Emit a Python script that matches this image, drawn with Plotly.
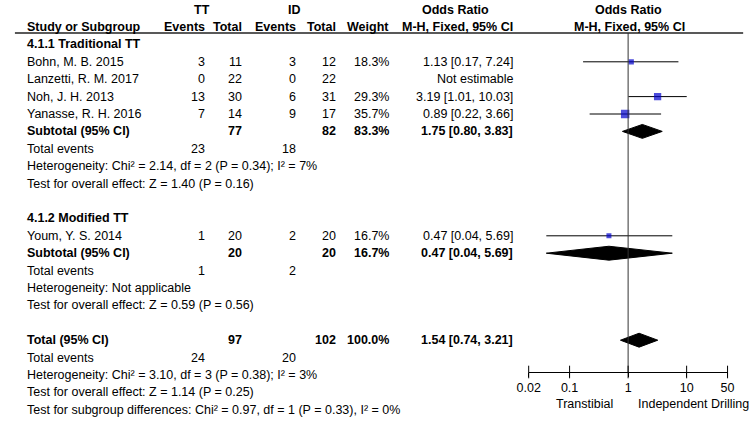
import math
import plotly.graph_objects as go

# study level data
studies = ["Bohn, M. B. 2015", "Lanzetti, R. M. 2017", "Noh, J. H. 2013",
           "Yanasse, R. H. 2016", "Youm, Y. S. 2014"]
study_group = [0, 0, 0, 0, 1]
tt_events = [3, 0, 13, 7, 1]
tt_total = [11, 22, 30, 14, 20]
id_events = [3, 0, 6, 9, 2]
id_total = [12, 22, 31, 17, 20]
weight = [18.3, None, 29.3, 35.7, 16.7]
or_est = [1.13, None, 3.19, 0.89, 0.47]
or_lo = [0.17, None, 1.01, 0.22, 0.04]
or_hi = [7.24, None, 10.03, 3.66, 5.69]

# subgroup summaries
sub_names = ["4.1.1 Traditional TT", "4.1.2 Modified TT"]
sub_tt_total = [77, 20]
sub_id_total = [82, 20]
sub_tt_events = [23, 1]
sub_id_events = [18, 2]
sub_weight = [83.3, 16.7]
sub_or = [1.75, 0.47]
sub_lo = [0.80, 0.04]
sub_hi = [3.83, 5.69]
sub_het = ["Heterogeneity: Chi² = 2.14, df = 2 (P = 0.34); I² = 7%",
           "Heterogeneity: Not applicable"]
sub_effect = ["Test for overall effect: Z = 1.40 (P = 0.16)",
              "Test for overall effect: Z = 0.59 (P = 0.56)"]

# overall
tot_tt_total, tot_id_total = 97, 102
tot_tt_events, tot_id_events = 24, 20
tot_weight = 100.0
tot_or, tot_lo, tot_hi = 1.54, 0.74, 3.21
tot_het = "Heterogeneity: Chi² = 3.10, df = 3 (P = 0.38); I² = 3%"
tot_effect = "Test for overall effect: Z = 1.14 (P = 0.25)"
subgroup_diff = "Test for subgroup differences: Chi² = 0.97, df = 1 (P = 0.33), I² = 0%"

tick_vals = [0.02, 0.1, 1, 10, 50]
tick_text = ["0.02", "0.1", "1", "10", "50"]
favours = ["Transtibial", "Independent Drilling"]

FONT = "Liberation Sans, Arial, sans-serif"
FS = 12.5
W, H = 756, 422
ROW0, ROW_H = 27, 17.4       # y of header row, row pitch (px)
AXIS_PX = 372
LEFT = 13
COL = {"tt_ev": 200, "tt_tot": 238, "id_ev": 293, "id_tot": 334, "wt": 389, "or": 516}
SQUARE = "#0000cc"
DIA_H = 0.4


def pxx(x):
    return x / W


def pxy(y):
    return 1 - y / H


def row_of(p):
    return (p - ROW0) / ROW_H


def row_px(r):
    return ROW0 + ROW_H * r


ann = []


def text(s, x, row, anchor="right", bold=False):
    if bold:
        s = "<b>%s</b>" % s
    ann.append(dict(text=s, x=pxx(x), y=pxy(row_px(row)), xref="paper", yref="paper",
                    xanchor=anchor, yanchor="middle", showarrow=False,
                    font=dict(family=FONT, size=FS, color="black")))


def ci_text(e, lo, hi):
    return "%.2f [%.2f, %.2f]" % (e, lo, hi)


fig = go.Figure()


def diamond(e, lo, hi, row):
    fig.add_trace(go.Scatter(x=[lo, e, hi, e, lo], y=[row, row - DIA_H, row, row + DIA_H, row],
                             mode="lines", fill="toself", fillcolor="black",
                             line=dict(color="black", width=1), hoverinfo="skip"))


# headers
text("TT", 195, -1, "center", True)
text("ID", 290, -1, "center", True)
text("Odds Ratio", 455, -1, "center", True)
text("Odds Ratio", 632, -1, "center", True)
text("Study or Subgroup", LEFT, 0, "left", True)
text("Events", COL["tt_ev"], 0, bold=True)
text("Total", COL["tt_tot"], 0, bold=True)
text("Events", COL["id_ev"], 0, bold=True)
text("Total", COL["id_tot"], 0, bold=True)
text("Weight", COL["wt"], 0, bold=True)
text("M-H, Fixed, 95% CI", COL["or"], 0, bold=True)
text("M-H, Fixed, 95% CI", 633, 0, "center", True)

sq_x, sq_y, sq_s = [], [], []
row = 1
for g, name in enumerate(sub_names):
    text(name, LEFT, row, "left", True)
    row += 1
    for i in range(len(studies)):
        if study_group[i] != g:
            continue
        text(studies[i], LEFT, row, "left")
        text(str(tt_events[i]), COL["tt_ev"], row)
        text(str(tt_total[i]), COL["tt_tot"], row)
        text(str(id_events[i]), COL["id_ev"], row)
        text(str(id_total[i]), COL["id_tot"], row)
        if or_est[i] is None:
            text("Not estimable", COL["or"], row)
        else:
            text("%.1f%%" % weight[i], COL["wt"], row)
            text(ci_text(or_est[i], or_lo[i], or_hi[i]), COL["or"], row)
            fig.add_trace(go.Scatter(x=[or_lo[i], or_hi[i]], y=[row, row], mode="lines",
                                     line=dict(color="black", width=1), hoverinfo="skip"))
            sq_x.append(or_est[i])
            sq_y.append(row)
            sq_s.append(2 + weight[i] * 0.18)
        row += 1
    text("Subtotal (95% CI)", LEFT, row, "left", True)
    text(str(sub_tt_total[g]), COL["tt_tot"], row, bold=True)
    text(str(sub_id_total[g]), COL["id_tot"], row, bold=True)
    text("%.1f%%" % sub_weight[g], COL["wt"], row, bold=True)
    text(ci_text(sub_or[g], sub_lo[g], sub_hi[g]), COL["or"], row, bold=True)
    diamond(sub_or[g], sub_lo[g], sub_hi[g], row)
    row += 1
    text("Total events", LEFT, row, "left")
    text(str(sub_tt_events[g]), COL["tt_ev"], row)
    text(str(sub_id_events[g]), COL["id_ev"], row)
    row += 1
    text(sub_het[g], LEFT, row, "left")
    row += 1
    text(sub_effect[g], LEFT, row, "left")
    row += 2

text("Total (95% CI)", LEFT, row, "left", True)
text(str(tot_tt_total), COL["tt_tot"], row, bold=True)
text(str(tot_id_total), COL["id_tot"], row, bold=True)
text("%.1f%%" % tot_weight, COL["wt"], row, bold=True)
text(ci_text(tot_or, tot_lo, tot_hi), COL["or"], row, bold=True)
diamond(tot_or, tot_lo, tot_hi, row)
row += 1
text("Total events", LEFT, row, "left")
text(str(tot_tt_events), COL["tt_ev"], row)
text(str(tot_id_events), COL["id_ev"], row)
row += 1
text(tot_het, LEFT, row, "left")
row += 1
text(tot_effect, LEFT, row, "left")
row += 1
text(subgroup_diff, LEFT, row, "left")

# favours labels under the axis
text(favours[0], 619, row_of(404), "right")
text(favours[1], 640, row_of(404), "left")

# squares
fig.add_trace(go.Scatter(x=sq_x, y=sq_y, mode="markers",
                         marker=dict(symbol="square", color=SQUARE, size=sq_s, line=dict(width=0)),
                         hoverinfo="skip"))

# line of no effect
fig.add_trace(go.Scatter(x=[1, 1], y=[row_of(33), row_of(AXIS_PX)], mode="lines",
                         line=dict(color="#333", width=1), hoverinfo="skip"))

# upward half of the crossing ticks
fig.add_trace(go.Scatter(x=tick_vals, y=[row_of(AXIS_PX)] * len(tick_vals), mode="markers",
                         marker=dict(symbol="line-ns", size=9, line=dict(color="black", width=1)),
                         cliponaxis=False, hoverinfo="skip"))

fig.add_shape(type="line", xref="paper", yref="paper", x0=pxx(3), x1=pxx(750),
              y0=pxy(33), y1=pxy(33), line=dict(color="#222", width=1.5))

fig.update_layout(
    width=W, height=H, margin=dict(l=0, r=0, t=0, b=0),
    paper_bgcolor="white", plot_bgcolor="white", showlegend=False,
    annotations=ann,
    xaxis=dict(type="log", range=[math.log10(0.02), math.log10(50)],
               domain=[pxx(530), pxx(734)], showline=True, linecolor="black", linewidth=1,
               ticks="outside", ticklen=4, tickcolor="black", ticklabelstandoff=0,
               tickvals=tick_vals, ticktext=tick_text, showgrid=False, zeroline=False,
               tickfont=dict(family=FONT, size=FS, color="black")),
    yaxis=dict(range=[row_of(AXIS_PX), row_of(0)], domain=[1 - AXIS_PX / H, 1],
               visible=False, showgrid=False, zeroline=False),
)

# drop the default page margin so the figure sits at the window corner
fig.write_html("out.html", config={"displayModeBar": False},
               post_script="document.body.style.margin = '0';")
